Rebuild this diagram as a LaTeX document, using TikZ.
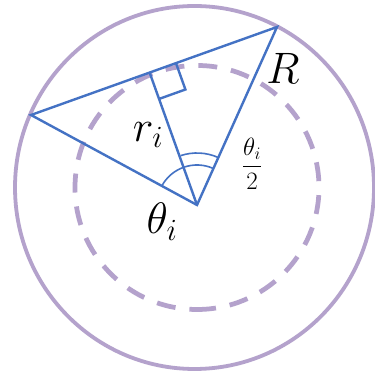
\RequirePackage{fix-cm}
\documentclass[tikz,border=0pt]{standalone}
\usepackage{amsmath}
\usetikzlibrary{calc}
\definecolor{circpurple}{RGB}{180,162,204}
\definecolor{lineblue}{RGB}{68,114,196}
\tikzset{
  bigcircle/.style={draw=circpurple, line width=3.8pt},
  dashcircle/.style={draw=circpurple, line width=4.75pt, dash pattern=on 19pt off 14pt},
  blueline/.style={draw=lineblue, line width=2.4pt, line join=miter},
  thinarc/.style={draw=lineblue, line width=1.6pt},
  biglabel/.style={inner sep=0pt, font=\fontsize{44}{48}\selectfont},
  smalllabel/.style={inner sep=0pt, font=\fontsize{25}{29}\selectfont},
}
\begin{document}
\begin{tikzpicture}[x=1pt,y=1pt]
\useasboundingbox (0,0) rectangle (375,374);
\fill[white] (0,0) rectangle (375,374);
% circles
\coordinate (O1) at (194.5,186.5);
\coordinate (O2) at (197,186.5);
\draw[bigcircle] (O1) ellipse [x radius=179.5, y radius=181.5];
\draw[dashcircle] ($(O2)+(0,-122)$) arc[start angle=-90, end angle=270, radius=122];
% triangle
\coordinate (T) at (277,347);
\coordinate (L) at (31,259);
\coordinate (A) at (197,169);
\coordinate (F) at ($(L)!(A)!(T)$);
\draw[blueline] (A) -- (L) -- (T) -- cycle;
\draw[blueline] (A) -- (F);
% right angle mark
\coordinate (S1) at ($(F)!28pt!(T)$);
\coordinate (S2) at ($(F)!28pt!(A)$);
\coordinate (S3) at ($(S1)+(S2)-(F)$);
\draw[blueline] (S1) -- (S3) -- (S2);
% angle arcs
\draw[thinarc] ($(A)+(65.8:40)$) arc[start angle=65.8, end angle=151.5, radius=40];
\draw[thinarc] ($(A)+(66:52)$) arc[start angle=66, end angle=108.5, radius=52];
% labels
\node[biglabel] (lR) at (283,306) {$R$};
\node[biglabel] (lr) at (148,239) {$r_i$};
\node[biglabel] (lth) at (162,152) {$\theta_i$};
\node[smalllabel] (lhalf) at (252,210) {$\dfrac{\theta_i}{2}$};
\end{tikzpicture}
\end{document}
